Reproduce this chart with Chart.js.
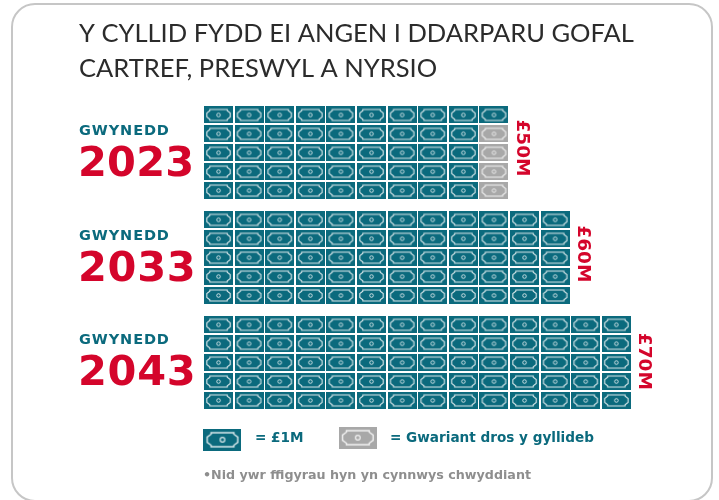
<!DOCTYPE html>
<html><head><meta charset="utf-8">
<script src="https://cdn.jsdelivr.net/npm/chart.js@4"></script>
<style>
html,body{margin:0;padding:0;background:#fff;overflow:hidden}
#frame{position:absolute;left:11px;top:3px;width:702px;height:499px;border:2px solid #c6c6c6;border-radius:24px;box-sizing:border-box}
#wrap{position:absolute;left:0;top:0;width:719px;height:500px;filter:blur(.35px)}
</style></head><body>
<div id="frame"></div>
<div id="wrap"><canvas id="c" width="719" height="500"></canvas></div>
<script>
const titleLines = ["Y CYLLID FYDD EI ANGEN I DDARPARU GOFAL", "CARTREF, PRESWYL A NYRSIO"];
const years = ["2023", "2033", "2043"];
const region = "GWYNEDD";
const totals = [50, 60, 70];
const overBudget = [4, 0, 0];
const totalLabels = ["£50M", "£60M", "£70M"];
const legendBudget = "= £1M";
const legendOver = "= Gwariant dros y gyllideb";
const footnote = "•Nid ywr ffigyrau hyn yn cynnwys chwyddiant";

const TEAL = "#0b6a7d", GREY = "#a8a8a8", RED = "#d4052b";
const PER_COL = 5, GROUP_STEP = 5.55;

function note(w, h, bg) {
  const k = w / 29;
  const cv = document.createElement("canvas");
  cv.width = w; cv.height = h;
  const g = cv.getContext("2d");
  g.fillStyle = bg; g.fillRect(0, 0, w, h);
  g.strokeStyle = "rgba(255,255,255,.85)"; g.lineWidth = 1.1 * k;
  const l = 2.8 * k, r = w - 2.8 * k, t = 3 * k, b = h - 3 * k, c = 3 * k, my = h / 2;
  g.beginPath();
  g.moveTo(l + c, t); g.lineTo(r - c, t); g.lineTo(r - c, t + 1.2 * k); g.lineTo(r, my - 2 * k); g.lineTo(r, my + 2 * k);
  g.lineTo(r - c, b - 1.2 * k); g.lineTo(r - c, b); g.lineTo(l + c, b); g.lineTo(l + c, b - 1.2 * k);
  g.lineTo(l, my + 2 * k); g.lineTo(l, my - 2 * k); g.lineTo(l + c, t + 1.2 * k); g.closePath(); g.stroke();
  g.beginPath(); g.arc(w / 2, my, 1.8 * k, 0, 7); g.lineWidth = 0.9 * k; g.stroke();
  return cv;
}
const tealNote = note(29, 17, TEAL), greyNote = note(29, 17, GREY);
const tealBig = note(38, 22, TEAL), greyBig = note(38, 22, GREY);

const teal = [], grey = [];
totals.forEach((tot, i) => {
  const greyFrom = tot - overBudget[i];
  for (let n = 0; n < tot; n++) {
    const col = Math.floor(n / PER_COL), row = n % PER_COL;
    // over-budget notes sit at the bottom of the final column
    (n >= greyFrom ? grey : teal).push({ x: col, y: i * GROUP_STEP + row });
  }
});

const textPlugin = {
  id: "texts",
  afterDatasetsDraw(ch) {
    const g = ch.ctx, X = ch.scales.x, Y = ch.scales.y;
    const put = (s, x, y, font, color, sp, rot) => {
      g.save(); g.translate(x, y); if (rot) g.rotate(rot);
      g.font = font; g.fillStyle = color; g.letterSpacing = (sp || 0) + "px";
      g.textAlign = rot ? "center" : "left"; g.textBaseline = "middle";
      g.fillText(s, 0, 0); g.restore();
    };
    years.forEach((yr, i) => {
      const y0 = Y.getPixelForValue(i * GROUP_STEP);
      put(region, 79, y0 + [16.5, 16, 15][i], "700 14.5px 'DejaVu Sans'", TEAL, 0.9);
      put(yr, 78, y0 + [50, 50, 49][i], "700 41.5px 'DejaVu Sans'", RED, i ? 0.7 : 0.2);
      const edge = X.getPixelForValue(totals[i] / PER_COL - 0.5);
      put(totalLabels[i], edge + 12.5, y0 + [33, 34, 36.5][i], "700 18.5px 'DejaVu Sans'", RED, 0, Math.PI / 2);
    });
    put(legendBudget, 255, 438, "700 13.6px 'DejaVu Sans'", TEAL, 0);
    put(legendOver, 390, 438, "700 13.6px 'DejaVu Sans'", TEAL, 0);
    put(footnote, 203, 476, "700 12.7px 'DejaVu Sans'", "#8e8e8e", 0);
  }
};

new Chart(document.getElementById("c"), {
  type: "scatter",
  plugins: [textPlugin],
  data: { datasets: [
    { label: "£1M", data: teal, pointStyle: tealNote, pointRadius: 15 },
    { label: "Gwariant dros y gyllideb", data: grey, pointStyle: greyNote, pointRadius: 15 },
    { label: "legend £1M", data: [{ x: 0.13, y: 17.18 }], pointStyle: tealBig, pointRadius: 19 },
    { label: "legend over", data: [{ x: 4.55, y: 17.07 }], pointStyle: greyBig, pointRadius: 19 }
  ]},
  options: {
    responsive: false, animation: false, devicePixelRatio: 1,
    layout: { padding: { left: 79, right: 39, top: 0, bottom: 10 } },
    plugins: {
      legend: { display: false }, tooltip: { enabled: false },
      title: { display: true, text: titleLines, align: "start", fullSize: false, color: "#2b2b2b",
        font: { family: "Lato", size: 25.5, weight: "400", lineHeight: 1.373 }, padding: { top: 16, bottom: 10.4 } }
    },
    scales: {
      x: { type: "linear", display: false, min: -4.559, max: 15.08 },
      y: { type: "linear", display: false, reverse: true, min: -0.98, max: 19.31 }
    }
  }
});
</script></body></html>
